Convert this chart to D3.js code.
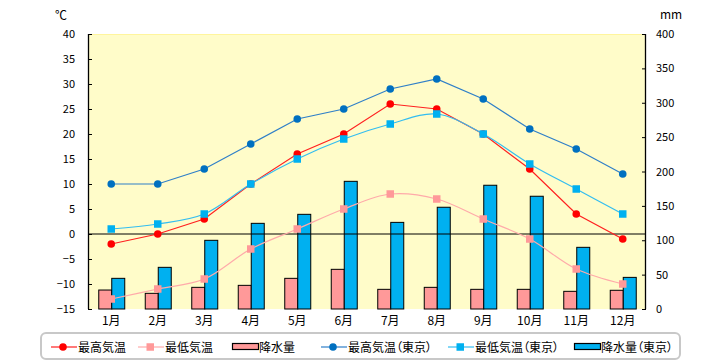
<!DOCTYPE html>
<html><head><meta charset="utf-8">
<script src="https://cdn.jsdelivr.net/npm/d3@7"></script>
<style>body{margin:0;background:#fff} .leg{font-feature-settings:"palt" 1;}</style>
</head><body><div id="chart"></div>
<script>
const months = ["1月","2月","3月","4月","5月","6月","7月","8月","9月","10月","11月","12月"];
const maxTemp = [-2,0,3,10,16,20,26,25,20,13,4,-1];
const minTemp = [-13,-11,-9,-3,1,5,8,7,3,-1,-7,-10];
const precip = [27.6,22.8,31.5,34.4,44.6,57.7,28.6,31.5,28.6,28.6,25.7,27.2];
const maxTempTokyo = [10,10,13,18,23,25,29,31,27,21,17,12];
const minTempTokyo = [1,2,4,10,15,19,22,24,20,14,9,4];
const precipTokyo = [44.6,60.6,99.9,124.6,137.7,185.7,126,148,180,164,89.7,46];
const tempTicks = [-15,-10,-5,0,5,10,15,20,25,30,35,40];
const precipTicks = [0,50,100,150,200,250,300,350,400];
const legendLabels = ["最高気温","最低気温","降水量","最高気温（東京）","最低気温（東京）","降水量（東京）"];

const W=720,H=360;
const L=88,R=646,T=34,B=309;
const font = "'Noto Sans CJK JP', sans-serif";
const svg = d3.select("#chart").append("svg").attr("width",W).attr("height",H)
  .style("font-family",font);

const x = d3.scaleBand().domain(months).range([L,R]);
const yT = d3.scaleLinear().domain([-15,40]).range([B,T]);
const yP = d3.scaleLinear().domain([0,400]).range([B,T]);

svg.append("rect").attr("x",L).attr("y",T).attr("width",R-L).attr("height",B-T).attr("fill","#FFFCC9");
svg.append("line").attr("x1",L).attr("x2",R).attr("y1",T+0.5).attr("y2",T+0.5).attr("stroke","#FFF59D");

// bars
const bw = 13;
const bars = svg.append("g");
bars.selectAll(".p1").data(precip).join("rect")
  .attr("x",(d,i)=>x(months[i])+x.bandwidth()/2-bw+0.5)
  .attr("y",d=>yP(d)).attr("width",bw).attr("height",d=>yP(0)-yP(d))
  .attr("fill","#FF9999").attr("stroke","#000").attr("stroke-width",1);
bars.selectAll(".p2").data(precipTokyo).join("rect")
  .attr("x",(d,i)=>x(months[i])+x.bandwidth()/2+0.5)
  .attr("y",d=>yP(d)).attr("width",bw).attr("height",d=>yP(0)-yP(d))
  .attr("fill","#00B0F0").attr("stroke","#000").attr("stroke-width",1);

// zero line
svg.append("line").attr("x1",L).attr("x2",R).attr("y1",yT(0)).attr("y2",yT(0)).attr("stroke","#000").attr("stroke-width",1);

const cx = i => x(months[i])+x.bandwidth()/2;
function series(data, color, lineColor, shape, smooth){
  const line = d3.line().x((d,i)=>cx(i)).y(d=>yT(d)).curve(smooth?d3.curveCatmullRom:d3.curveLinear);
  svg.append("path").attr("d",line(data)).attr("fill","none").attr("stroke",lineColor).attr("stroke-width",1.2);
  const g = svg.append("g");
  if(shape==="circle"){
    g.selectAll("circle").data(data).join("circle").attr("cx",(d,i)=>cx(i)).attr("cy",d=>yT(d)).attr("r",3.8).attr("fill",color);
  } else {
    g.selectAll("rect").data(data).join("rect").attr("x",(d,i)=>cx(i)-3.75).attr("y",d=>yT(d)-3.75).attr("width",7.5).attr("height",7.5).attr("fill",color);
  }
}
series(maxTemp,"#FF0000","#FF2020","circle",false);
series(minTemp,"#FF9999","#FFAAAA","square",true);
series(maxTempTokyo,"#0070C0","#2F7FC8","circle",false);
series(minTempTokyo,"#00B0F0","#33BDF0","square",true);

// axes
const axL = svg.append("g").attr("transform",`translate(${L},0)`)
  .call(d3.axisLeft(yT).tickValues(tempTicks).tickSize(-4).tickPadding(13));
const axR = svg.append("g").attr("transform",`translate(${R},0)`)
  .call(d3.axisRight(yP).tickValues(precipTicks).tickSize(-4).tickPadding(10));
[axL,axR].forEach(a=>{
  a.select(".domain").attr("stroke","#000").attr("stroke-width",1.3);
  a.selectAll("line").attr("stroke","#000");
  a.selectAll("text").attr("fill","#000").style("font-family",font).style("font-size","11px");
});
axL.selectAll(".tick line").attr("x2",4);
axR.selectAll(".tick line").attr("x2",-4);
axL.select(".domain").attr("d",`M0.5,${T}V${B}`);
axR.select(".domain").attr("d",`M-0.5,${T}V${B}`);

svg.append("text").attr("x",61).attr("y",20).attr("text-anchor","middle").style("font-size","12px").text("℃");
svg.append("text").attr("x",671).attr("y",19).attr("text-anchor","middle").style("font-size","12px").text("mm");

// month labels
svg.append("g").selectAll("text").data(months).join("text")
  .attr("x",d=>x(d)+x.bandwidth()/2).attr("y",325).attr("text-anchor","middle")
  .style("font-size","12px").text(d=>d);

// legend
svg.append("rect").attr("x",41).attr("y",333).attr("width",639).attr("height",26).attr("rx",5)
  .attr("fill","#fff").attr("stroke","#C8C8C8").attr("stroke-width",2);
const legX = [51,138,232,321,448,574];
const legTypes = [
  {t:"line",c:"#FF0000",lc:"#FF2020",s:"circle"},
  {t:"line",c:"#FF9999",lc:"#FFAAAA",s:"square"},
  {t:"bar",c:"#FF9999"},
  {t:"line",c:"#0070C0",lc:"#2F7FC8",s:"circle"},
  {t:"line",c:"#00B0F0",lc:"#33BDF0",s:"square"},
  {t:"bar",c:"#00B0F0"}
];
const ly = 347;
legendLabels.forEach((lab,i)=>{
  const x0 = legX[i], tp = legTypes[i];
  if(tp.t==="line"){
    svg.append("line").attr("x1",x0).attr("x2",x0+26).attr("y1",ly).attr("y2",ly).attr("stroke",tp.lc).attr("stroke-width",1.2);
    if(tp.s==="circle") svg.append("circle").attr("cx",x0+12).attr("cy",ly).attr("r",3.8).attr("fill",tp.c);
    else svg.append("rect").attr("x",x0+8.5).attr("y",ly-3.75).attr("width",7.5).attr("height",7.5).attr("fill",tp.c);
  } else {
    svg.append("rect").attr("x",x0+0.5).attr("y",ly-3.5).attr("width",26).attr("height",6).attr("fill",tp.c).attr("stroke","#000").attr("stroke-width",1.2);
  }
  svg.append("text").attr("class","leg").attr("x",x0+27).attr("y",ly+4.5).style("font-size","12px").text(lab);
});
</script></body></html>
